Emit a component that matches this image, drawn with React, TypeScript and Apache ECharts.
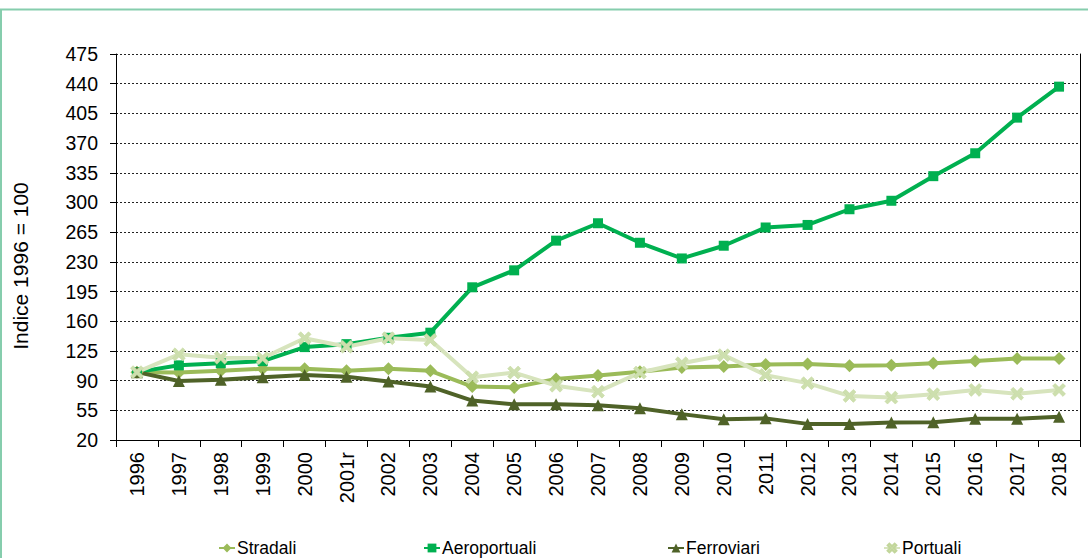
import React, { useEffect, useRef } from "react";
import * as echarts from "echarts";

const categories = ["1996","1997","1998","1999","2000","2001r","2002","2003","2004","2005","2006","2007","2008","2009","2010","2011","2012","2013","2014","2015","2016","2017","2018"];
const stradali = [100, 99.5, 101.5, 104, 104, 101.5, 104, 101.5, 83, 82, 92, 96, 100.5, 105.5, 106.5, 109, 109.5, 107.5, 108, 110.5, 113, 116, 116];
const aeroportuali = [100, 108, 110.5, 113, 129.5, 133, 140.5, 146.5, 200, 220, 255, 275.5, 252.5, 234, 249, 270.5, 273.5, 292, 302, 331, 358, 400, 436.5];
const ferroviari = [100, 89.5, 91, 94, 96.5, 94.5, 89, 83, 66.5, 62, 62, 61, 57.5, 50.5, 44.5, 45.5, 39, 39, 40.5, 41, 45, 45, 47.5];
const portuali = [100, 121, 117, 116.5, 140, 130, 140, 138, 94, 99.5, 84, 77, 99.5, 110.5, 120, 96.5, 87, 72, 70, 74, 79, 74.5, 79];
const yMin = 20;
const yMax = 475;
const yStep = 35;

const FONT = "'Liberation Sans', Arial, sans-serif";
const X_SYMBOL = "path://M0,2 L2,0 L5,3 L8,0 L10,2 L7,5 L10,8 L8,10 L5,7 L2,10 L0,8 L3,5 Z";

export default function App() {
  const ref = useRef<HTMLDivElement>(null);
  useEffect(() => {
    if (!ref.current) return;
    const chart = echarts.init(ref.current, undefined, { renderer: "svg" });
    const legendBase = (name: string, left: number) => ({
      data: [name],
      left,
      top: 539,
      padding: 0,
      itemWidth: 16,
      itemHeight: 11,
      itemGap: 0,
      textStyle: { fontFamily: FONT, fontSize: 17.5, color: "#000", padding: [0, 0, 0, -3] },
    });
    chart.setOption({
      animation: false,
      backgroundColor: "#fff",
      textStyle: { fontFamily: FONT },
      grid: { left: 116, right: 8, top: 54, bottom: 118, containLabel: false },
      legend: [
        legendBase("Stradali", 218),
        legendBase("Aeroportuali", 423),
        legendBase("Ferroviari", 667),
        legendBase("Portuali", 883),
      ],
      graphic: [
        {
          type: "rect",
          shape: { x: 1, y: 9.5, width: 1200, height: 700 },
          style: { fill: "none", stroke: "#86cdad", lineWidth: 2 },
          silent: true,
        },
        {
          type: "text",
          x: 20,
          y: 266,
          rotation: Math.PI / 2,
          style: {
            text: "Indice 1996 = 100",
            fontFamily: FONT,
            fontSize: 21,
            fill: "#000",
            align: "center",
            verticalAlign: "middle",
          },
        },
      ],
      xAxis: {
        type: "category",
        data: categories,
        boundaryGap: true,
        axisLine: { show: true, lineStyle: { color: "#000", width: 1 } },
        axisTick: { show: true, length: 7, lineStyle: { color: "#000" } },
        axisLabel: { rotate: 90, fontSize: 20, color: "#000", fontFamily: FONT, margin: 12, interval: 0 },
        splitLine: { show: false },
      },
      yAxis: [
        {
          type: "value",
          min: yMin,
          max: yMax,
          interval: yStep,
          axisLine: { show: true, lineStyle: { color: "#000", width: 1 } },
          axisTick: { show: true, length: 6, lineStyle: { color: "#000" } },
          axisLabel: { fontSize: 19.5, color: "#000", fontFamily: FONT, margin: 18 },
          splitLine: { show: true, lineStyle: { color: "#222", type: [2, 2], width: 1 } },
        },
        {
          type: "value",
          position: "right",
          min: yMin,
          max: yMax,
          interval: yStep,
          axisLine: { show: true, lineStyle: { color: "#000", width: 1 } },
          axisTick: { show: false },
          axisLabel: { show: false },
          splitLine: { show: false },
        },
      ],
      series: [
        {
          name: "Stradali",
          type: "line",
          data: stradali,
          symbol: "diamond",
          symbolSize: 13,
          lineStyle: { color: "#9bbb59", width: 4 },
          itemStyle: { color: "#9bbb59" },
        },
        {
          name: "Aeroportuali",
          type: "line",
          data: aeroportuali,
          symbol: "rect",
          symbolSize: 10,
          lineStyle: { color: "#00b050", width: 4 },
          itemStyle: { color: "#00b050" },
        },
        {
          name: "Ferroviari",
          type: "line",
          data: ferroviari,
          symbol: "triangle",
          symbolSize: 12,
          lineStyle: { color: "#4f6228", width: 4 },
          itemStyle: { color: "#4f6228" },
        },
        {
          name: "Portuali",
          type: "line",
          data: portuali,
          symbol: X_SYMBOL,
          symbolSize: 13,
          lineStyle: { color: "#d7e4bd", width: 4 },
          itemStyle: { color: "#cddfae", borderColor: "#c2d69b", borderWidth: 0.5 },
        },
      ],
    });
    return () => chart.dispose();
  }, []);
  return (
    <div
      ref={ref}
      style={{ position: "absolute", left: 0, top: 0, width: 1088, height: 558 }}
    />
  );
}
